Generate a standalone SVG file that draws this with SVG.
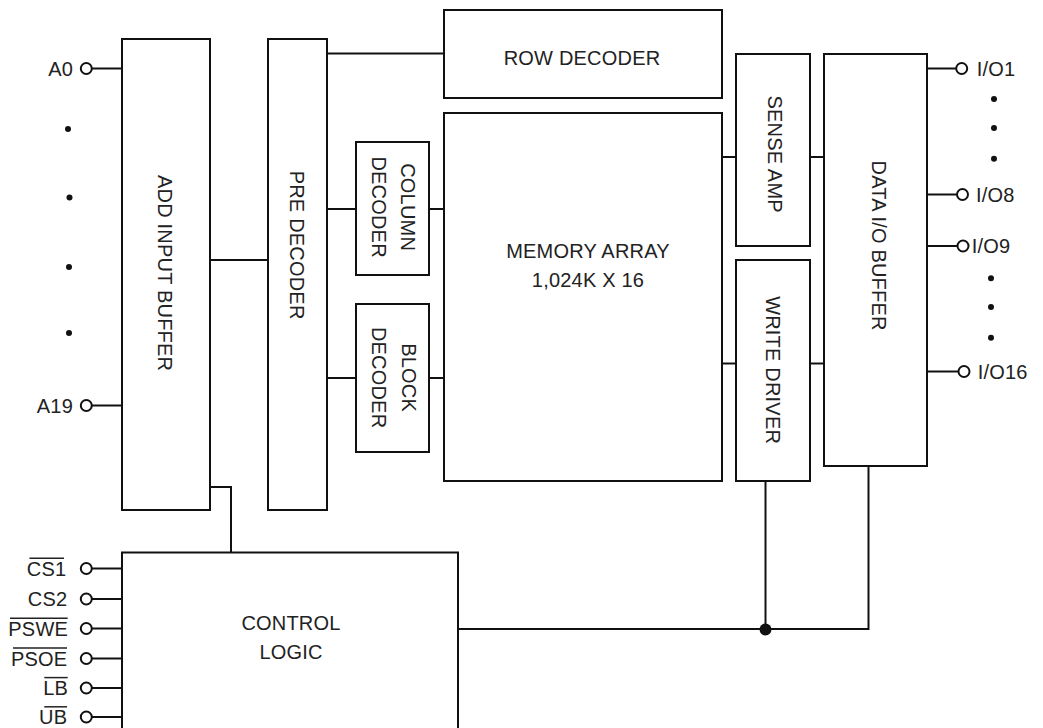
<svg xmlns="http://www.w3.org/2000/svg" width="1043" height="728" viewBox="0 0 1043 728">
<style>
.box{fill:#fff;stroke:#111;stroke-width:2}
.wire{fill:none;stroke:#111;stroke-width:2}
.pin{fill:#fff;stroke:#111;stroke-width:2}
.dot{fill:#111}
.ovl{stroke:#222;stroke-width:1.5}
text{font-family:"Liberation Sans",Arial,sans-serif;font-size:20px;letter-spacing:0.2px;fill:#222}
.c{text-anchor:middle}
.e{text-anchor:end}
</style>
<rect width="1043" height="728" fill="#fff"/>

<g id="connectors">
  <line class="wire" x1="92" y1="68.5" x2="122" y2="68.5"/>
  <line class="wire" x1="92" y1="405.5" x2="122" y2="405.5"/>
  <line class="wire" x1="210" y1="260" x2="268" y2="260"/>
  <polyline class="wire" points="210,487 231,487 231,552"/>
  <line class="wire" x1="327" y1="53.5" x2="444" y2="53.5"/>
  <line class="wire" x1="327" y1="209" x2="356" y2="209"/>
  <line class="wire" x1="429" y1="209" x2="444" y2="209"/>
  <line class="wire" x1="327" y1="378" x2="356" y2="378"/>
  <line class="wire" x1="429" y1="378" x2="444" y2="378"/>
  <line class="wire" x1="722" y1="157" x2="736" y2="157"/>
  <line class="wire" x1="810" y1="157" x2="824" y2="157"/>
  <line class="wire" x1="722" y1="363.5" x2="736" y2="363.5"/>
  <line class="wire" x1="810" y1="363.5" x2="824" y2="363.5"/>
  <line class="wire" x1="927" y1="68.5" x2="956" y2="68.5"/>
  <line class="wire" x1="927" y1="194.5" x2="957" y2="194.5"/>
  <line class="wire" x1="927" y1="246" x2="957.5" y2="246"/>
  <line class="wire" x1="927" y1="371.5" x2="958.5" y2="371.5"/>
  <line class="wire" x1="92" y1="568.5" x2="122" y2="568.5"/>
  <line class="wire" x1="92" y1="599" x2="122" y2="599"/>
  <line class="wire" x1="92" y1="628.5" x2="122" y2="628.5"/>
  <line class="wire" x1="92" y1="658.5" x2="122" y2="658.5"/>
  <line class="wire" x1="92" y1="688" x2="122" y2="688"/>
  <line class="wire" x1="92" y1="717" x2="122" y2="717"/>
  <polyline class="wire" points="458,629 868.5,629 868.5,466"/>
  <line class="wire" x1="765.5" y1="481" x2="765.5" y2="629"/>
  <circle class="dot" cx="765.5" cy="629.5" r="6"/>
</g>

<g id="add-input-buffer">
  <rect class="box" x="122" y="39" width="88" height="471"/>
  <text class="c" transform="translate(165.6,273) rotate(90)" x="0.1" y="7.1">ADD INPUT BUFFER</text>
</g>
<g id="pre-decoder">
  <rect class="box" x="268" y="39" width="59" height="471"/>
  <text class="c" transform="translate(297,245) rotate(90)" x="0.1" y="7.1">PRE DECODER</text>
</g>
<g id="row-decoder">
  <rect class="box" x="444" y="10" width="278" height="88"/>
  <text class="c" x="582" y="64.5">ROW DECODER</text>
</g>
<g id="column-decoder">
  <rect class="box" x="356" y="142" width="73" height="133"/>
  <text class="c" transform="translate(394,207) rotate(90)" x="0.1" y="-6.9">COLUMN</text>
  <text class="c" transform="translate(394,207) rotate(90)" x="0.1" y="21.6">DECODER</text>
</g>
<g id="block-decoder">
  <rect class="box" x="356" y="304" width="73" height="148"/>
  <text class="c" transform="translate(394,377.5) rotate(90)" x="0.1" y="-7.9">BLOCK</text>
  <text class="c" transform="translate(394,377.5) rotate(90)" x="0.1" y="21.6">DECODER</text>
</g>
<g id="memory-array">
  <rect class="box" x="444" y="113" width="278" height="368"/>
  <text class="c" x="588" y="258">MEMORY ARRAY</text>
  <text class="c" x="588" y="287">1,024K X 16</text>
</g>
<g id="sense-amp">
  <rect class="box" x="736" y="54" width="74" height="192"/>
  <text class="c" transform="translate(775,154) rotate(90)" x="0.1" y="7.1">SENSE AMP</text>
</g>
<g id="write-driver">
  <rect class="box" x="736" y="260" width="74" height="221"/>
  <text class="c" transform="translate(773.5,370) rotate(90)" x="0.1" y="7.1">WRITE DRIVER</text>
</g>
<g id="data-io-buffer">
  <rect class="box" x="824" y="54" width="103" height="412"/>
  <text class="c" transform="translate(879,245.5) rotate(90)" x="0.1" y="7.1">DATA I/O BUFFER</text>
</g>
<g id="control-logic">
  <rect class="box" x="122" y="552.5" width="336" height="190"/>
  <text class="c" x="291" y="629.5">CONTROL</text>
  <text class="c" x="291" y="659.2">LOGIC</text>
</g>

<g id="pin-a0">
  <circle class="pin" cx="86.3" cy="68.5" r="5.5"/>
  <text class="e" x="73" y="75.5">A0</text>
</g>
<g id="pin-a19">
  <circle class="pin" cx="86.3" cy="405.5" r="5.5"/>
  <text class="e" x="73" y="412.5">A19</text>
</g>
<g id="address-dots">
  <circle class="dot" cx="68" cy="129" r="3"/>
  <circle class="dot" cx="69.5" cy="197.5" r="3"/>
  <circle class="dot" cx="69" cy="267" r="3"/>
  <circle class="dot" cx="69" cy="333" r="3"/>
</g>

<g id="pin-cs1">
  <circle class="pin" cx="86.3" cy="568.5" r="5.5"/>
  <text class="e" x="66.3" y="575.5">CS1</text>
  <line class="ovl" x1="29.5" y1="558.3" x2="64" y2="558.3"/>
</g>
<g id="pin-cs2">
  <circle class="pin" cx="86.3" cy="599" r="5.5"/>
  <text class="e" x="67.3" y="606">CS2</text>
</g>
<g id="pin-pswe">
  <circle class="pin" cx="86.3" cy="628.5" r="5.5"/>
  <text class="e" x="68" y="635.5">PSWE</text>
  <line class="ovl" x1="10" y1="618.3" x2="67.7" y2="618.3"/>
</g>
<g id="pin-psoe">
  <circle class="pin" cx="86.3" cy="658.5" r="5.5"/>
  <text class="e" x="67.3" y="665.5">PSOE</text>
  <line class="ovl" x1="13" y1="648.1" x2="67" y2="648.1"/>
</g>
<g id="pin-lb">
  <circle class="pin" cx="86.3" cy="688" r="5.5"/>
  <text class="e" x="68" y="695">LB</text>
  <line class="ovl" x1="44.3" y1="677.6" x2="67.7" y2="677.6"/>
</g>
<g id="pin-ub">
  <circle class="pin" cx="86.3" cy="717" r="5.5"/>
  <text class="e" x="67.3" y="724">UB</text>
  <line class="ovl" x1="44.3" y1="706.8" x2="67" y2="706.8"/>
</g>

<g id="pin-io1">
  <circle class="pin" cx="961.7" cy="68.5" r="5.5"/>
  <text x="976.7" y="75.5">I/O1</text>
</g>
<g id="pin-io8">
  <circle class="pin" cx="962.5" cy="194.5" r="5.5"/>
  <text x="976" y="201.5">I/O8</text>
</g>
<g id="pin-io9">
  <circle class="pin" cx="963" cy="246" r="5.5"/>
  <text x="971.7" y="253">I/O9</text>
</g>
<g id="pin-io16">
  <circle class="pin" cx="964" cy="371.5" r="5.5"/>
  <text x="977.7" y="378.5">I/O16</text>
</g>
<g id="io-dots">
  <circle class="dot" cx="994" cy="99" r="3"/>
  <circle class="dot" cx="994" cy="128" r="3"/>
  <circle class="dot" cx="994" cy="158.7" r="3"/>
  <circle class="dot" cx="991" cy="278.3" r="3"/>
  <circle class="dot" cx="991" cy="307" r="3"/>
  <circle class="dot" cx="991" cy="337.7" r="3"/>
</g>
</svg>
